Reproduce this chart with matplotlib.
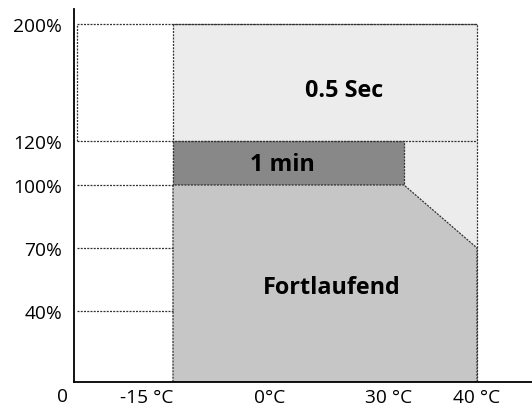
import numpy as np
import matplotlib
matplotlib.use("Agg")
import matplotlib.pyplot as plt
from matplotlib.transforms import ScaledTranslation

# daten
temps = [-15, 0, 30, 40]
temp_labels = ['-15 °C', '0°C', '30 °C', '40 °C']
levels = [40, 70, 100, 120, 200]
level_labels = ['40%', '70%', '100%', '120%', '200%']

# bereiche (temperatur, last %)
sec_temp = [-15, 40]
sec_load = [0, 200]
min_temp = [-15, 30]
min_load = [100, 120]
cont_temp = [-15, 30, 40]
cont_load = [100, 100, 70]

# achsen sind nicht linear -> stueckweise skala (pixel-stuetzstellen)
x_knot = [-60, -15, 0, 30, 40, 80]
x_px = [-119.5, 173, 270, 404, 477, 769]
y_knot = [-100, 0, 40, 70, 100, 120, 200, 300]
y_px = [-150.5, 27, 98, 161, 224, 268, 385, 531.25]

def x_fwd(v):
    return np.interp(v, x_knot, x_px)

def x_inv(p):
    return np.interp(p, x_px, x_knot)

def y_fwd(v):
    return np.interp(v, y_knot, y_px)

def y_inv(p):
    return np.interp(p, y_px, y_knot)

plt.rcParams['font.family'] = ['Open Sans', 'DejaVu Sans']

fig = plt.figure(figsize=(5.32, 4.10), dpi=100)
ax = fig.add_axes([74/532, 27/410, 458/532, 373/410])
ax.set_xscale('function', functions=(x_fwd, x_inv))
ax.set_yscale('function', functions=(y_fwd, y_inv))
ax.set_xlim(x_inv(74), x_inv(532))
ax.set_ylim(0, y_inv(400))

dots = (0, (1.6, 1.0))
edge = '#333333'

ax.fill_between(sec_temp, sec_load[0], sec_load[1], facecolor='#ececec',
                edgecolor=edge, linestyle=dots, linewidth=0.9)
ax.fill_between(min_temp, min_load[0], min_load[1], facecolor='#888888',
                edgecolor=edge, linestyle=dots, linewidth=0.9)
ax.fill_between(cont_temp, 0, cont_load, facecolor='#c6c6c6',
                edgecolor=edge, linestyle=dots, linewidth=0.9)

# hilfslinien von der y-achse bis -15 / rechts
x0 = x_inv(76.5)
for lv in levels:
    if lv >= 120:
        ax.plot([x0, sec_temp[1]], [lv, lv], color=edge, linestyle=dots, lw=0.9)
    else:
        ax.plot([x0, sec_temp[0]], [lv, lv], color=edge, linestyle=dots, lw=0.9)
ax.plot([x0, x0], [120, 200], color=edge, linestyle=dots, lw=0.9)

ax.text(0.5895, 0.783, '0.5 Sec', transform=ax.transAxes, ha='center', va='center',
        fontsize=16.8, fontweight='bold')
ax.text(0.454, 0.584, '1 min', transform=ax.transAxes, ha='center', va='center',
        fontsize=16.8, fontweight='bold')
ax.text(0.563, 0.255, 'Fortlaufend', transform=ax.transAxes, ha='center', va='center',
        fontsize=16.8, fontweight='bold')

ax.set_xticks(temps, temp_labels)
ax.set_yticks(levels, level_labels)
ax.xaxis.set_minor_locator(plt.NullLocator())
ax.yaxis.set_minor_locator(plt.NullLocator())
ax.tick_params(axis='x', length=0, pad=4.5, labelsize=13.8)
ax.tick_params(axis='y', length=0, pad=8.5, labelsize=13.8)

xl = ax.get_xticklabels()
xl[0].set_ha('right')
xl[2].set_transform(xl[2].get_transform() + ScaledTranslation(-0.15, 0, fig.dpi_scale_trans))

ax.text(-0.013, -0.0375, '0', transform=ax.transAxes, ha='right', va='center', fontsize=13.8)

ax.spines['top'].set_visible(False)
ax.spines['right'].set_visible(False)
ax.spines['left'].set_linewidth(1.3)
ax.spines['bottom'].set_linewidth(1.3)

fig.savefig('out.png', dpi=100)
